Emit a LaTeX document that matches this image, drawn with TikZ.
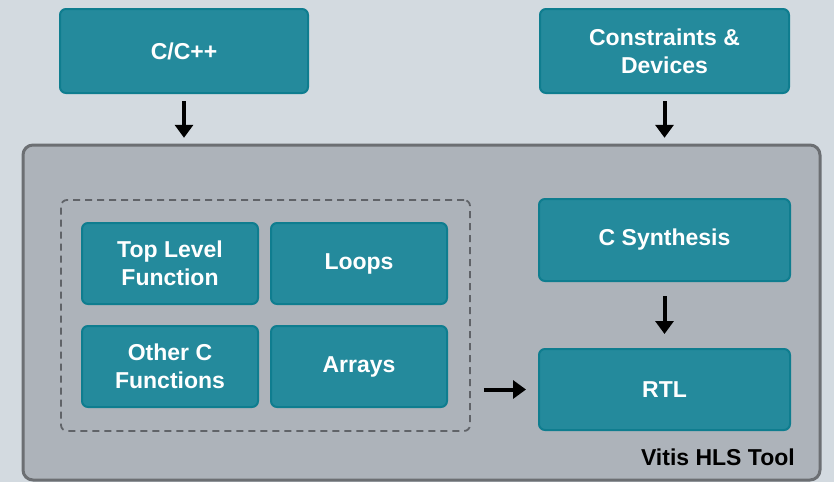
\documentclass[tikz,border=0pt]{standalone}
\usepackage{fontspec}
\setmainfont{Liberation Sans}
\usetikzlibrary{arrows.meta,positioning,calc}
\definecolor{bgc}{HTML}{D3DAE0}
\definecolor{tealf}{HTML}{248A9C}
\definecolor{teald}{HTML}{0F7D8F}
\definecolor{outf}{HTML}{ADB3BA}
\definecolor{outd}{HTML}{6C6F73}
\definecolor{dashc}{HTML}{606368}
\tikzset{
  tbox/.style={draw=teald, fill=tealf, line width=2pt, rounded corners=6pt,
    text=white, font=\fontsize{23}{28}\selectfont\bfseries, align=center,
    inner sep=0pt},
  flow/.style={-{Triangle[width=18pt,length=13pt]}, line width=4pt, black},
}
\begin{document}
\begin{tikzpicture}[x=1pt,y=-1pt]
\fill[bgc] (0,0) rectangle (834,482);
\useasboundingbox (0,0) rectangle (834,482);
\draw[draw=outd, fill=outf, line width=3pt, rounded corners=10pt] (23,145) rectangle (820,480);
\node[minimum width=797pt, minimum height=335pt, inner sep=0pt] (outer) at (421.5,312.5) {};
\node[draw=dashc, dashed, dash pattern=on 7pt off 5pt, line width=1.8pt, rounded corners=6pt,
  minimum width=409pt, minimum height=231pt, inner sep=0pt] (dash) at (265.5,315.5) {};

\node[tbox, minimum width=248pt, minimum height=84pt] (cpp) at (184,51) {C/C++};
\node[tbox, minimum width=249pt, minimum height=84pt] (cons) at (664.5,51) {Constraints \&\\Devices};

\node[tbox, minimum width=176pt, minimum height=81pt] (top) at (170,263.5) {Top Level\\Function};
\node[tbox, minimum width=176pt, minimum height=81pt] (loops) at (359,263.5) {Loops};
\node[tbox, minimum width=176pt, minimum height=81pt] (other) at (170,366.5) {Other C\\Functions};
\node[tbox, minimum width=176pt, minimum height=81pt] (arrays) at (359,366.5) {Arrays};

\node[tbox, minimum width=251pt, minimum height=82pt] (csyn) at (664.5,240) {C Synthesis};
\node[tbox, minimum width=251pt, minimum height=81pt] (rtl) at (664.5,389.5) {RTL};

\node[anchor=east, inner sep=0pt, font=\fontsize{23}{28}\selectfont\bfseries, text=black] (vitis) at (795,457) {Vitis HLS Tool};

\draw[flow, shorten <=7pt, shorten >=7pt] (cpp.south) -- (cpp.south |- outer.north);
\draw[flow, shorten <=7pt, shorten >=7pt] (cons.south) -- (cons.south |- outer.north);
\draw[flow, shorten <=14pt, shorten >=14pt] (csyn.south) -- (rtl.north);
\draw[flow, shorten <=13pt, shorten >=12pt] (rtl.west -| dash.east) -- (rtl.west);
\end{tikzpicture}
\end{document}
